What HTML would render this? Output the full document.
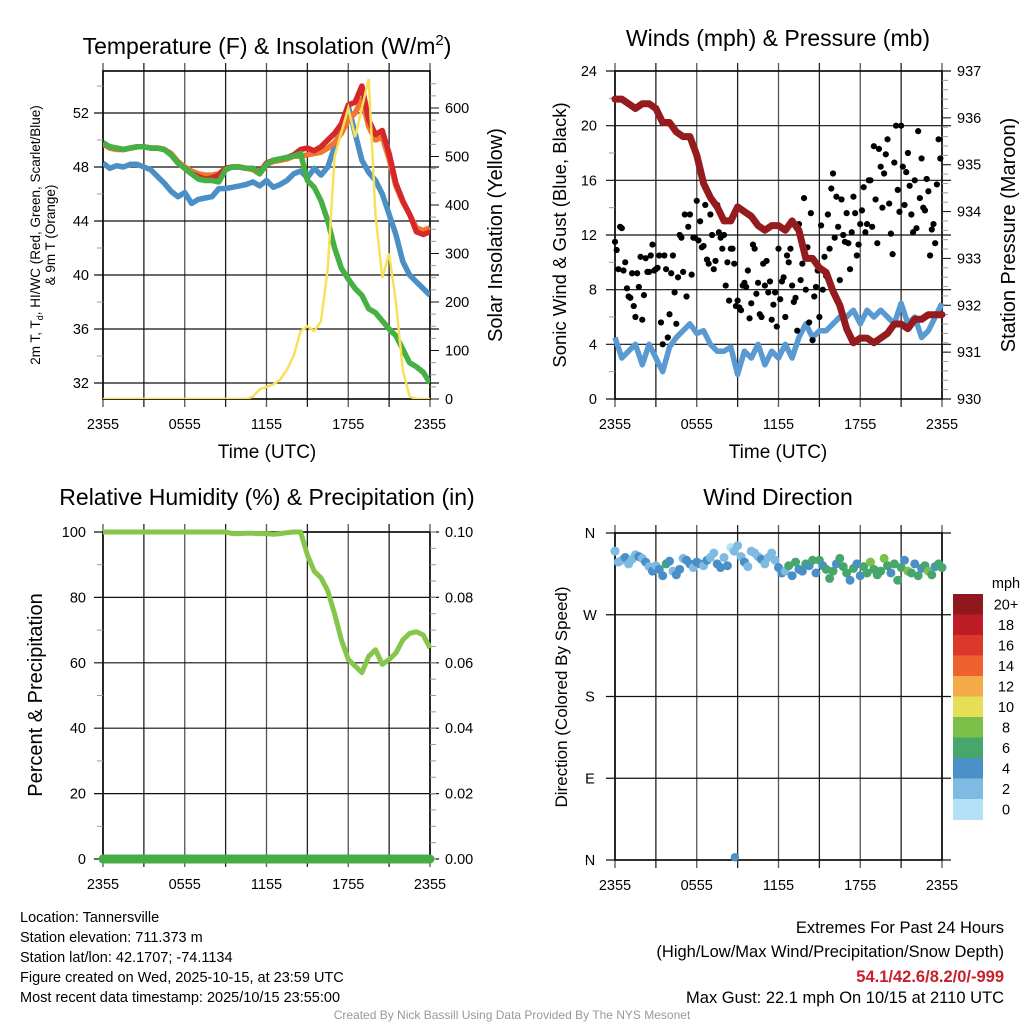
<!DOCTYPE html>
<html><head><meta charset="utf-8">
<style>
html,body{margin:0;padding:0;background:#fff;}
svg{display:block;font-family:"Liberation Sans",Arial,sans-serif;}
</style></head>
<body>
<svg id="chart" width="1024" height="1024" viewBox="0 0 1024 1024">
<rect width="1024" height="1024" fill="#fff"/>
<text x="267" y="54" font-size="23" text-anchor="middle">Temperature (F) &amp; Insolation (W/m<tspan dy="-9" font-size="15">2</tspan><tspan dy="9">)</tspan></text>
<text x="778" y="46" font-size="23" text-anchor="middle">Winds (mph) &amp; Pressure (mb)</text>
<text x="267" y="505" font-size="23" text-anchor="middle">Relative Humidity (%) &amp; Precipitation (in)</text>
<text x="778" y="505" font-size="23" text-anchor="middle">Wind Direction</text>

<g transform="translate(40,235) rotate(-90)" font-size="13.5" text-anchor="middle">
<text x="0" y="0">2m T, T<tspan font-size="9" dy="3">d</tspan><tspan dy="-3">, HI/WC (Red, Green, Scarlet/Blue)</tspan></text>
<text x="0" y="15">&amp; 9m T (Orange)</text></g>
<text transform="translate(502,235) rotate(-90)" font-size="20" text-anchor="middle">Solar Insolation (Yellow)</text>
<text transform="translate(566,235) rotate(-90)" font-size="18.5" text-anchor="middle">Sonic Wind &amp; Gust (Blue, Black)</text>
<text transform="translate(1015,235) rotate(-90)" font-size="20" text-anchor="middle">Station Pressure (Maroon)</text>
<text transform="translate(42,695) rotate(-90)" font-size="20" text-anchor="middle">Percent &amp; Precipitation</text>
<text transform="translate(567,697) rotate(-90)" font-size="17" text-anchor="middle">Direction (Colored By Speed)</text>
<text x="267" y="458" font-size="19" text-anchor="middle">Time (UTC)</text>
<text x="778" y="458" font-size="19" text-anchor="middle">Time (UTC)</text>

<g font-size="14.5">
<text x="20" y="922">Location: Tannersville</text>
<text x="20" y="942">Station elevation: 711.373 m</text>
<text x="20" y="962">Station lat/lon: 42.1707; -74.1134</text>
<text x="20" y="982">Figure created on Wed, 2025-10-15, at 23:59 UTC</text>
<text x="20" y="1002">Most recent data timestamp: 2025/10/15 23:55:00</text>
</g>
<g font-size="16.5" text-anchor="end">
<text x="1004" y="933">Extremes For Past 24 Hours</text>
<text x="1004" y="957">(High/Low/Max Wind/Precipitation/Snow Depth)</text>
<text x="1004" y="982" fill="#c8202a" font-weight="bold">54.1/42.6/8.2/0/-999</text>
<text x="1004" y="1003">Max Gust: 22.1 mph On 10/15 at 2110 UTC</text>
</g>
<text x="512" y="1019" font-size="12" fill="#999" text-anchor="middle">Created By Nick Bassill Using Data Provided By The NYS Mesonet</text>
<g id="plots"></g>
</svg>
<script>
// ---- data (half-hourly, hours since 2355 UTC) ----
const xTickLabels = ["2355","0555","1155","1755","2355"];
const tempT   = [49.8,49.5,49.4,49.3,49.4,49.5,49.5,49.4,49.4,49.3,48.9,48.3,47.9,47.5,47.3,47.1,47.2,47.4,47.9,48.0,48.0,47.9,47.9,47.6,48.3,48.5,48.6,48.7,48.9,49.3,49.4,49.2,49.5,50.0,50.5,51.2,52.6,52.8,54.0,51.5,50.4,50.7,49.0,46.8,45.5,44.5,43.2,43.0,43.2];
const temp9m  = [49.7,49.4,49.3,49.3,49.4,49.5,49.5,49.4,49.4,49.3,49.0,48.4,48.0,47.7,47.5,47.4,47.4,47.5,47.9,48.0,48.0,47.9,47.8,47.5,48.2,48.4,48.5,48.6,48.8,48.8,48.9,49.0,49.1,49.4,49.8,50.5,51.5,52.0,53.0,51.0,50.0,50.2,48.6,46.6,45.4,44.5,43.5,43.3,43.5];
const tempTd  = [49.8,49.5,49.4,49.3,49.4,49.5,49.5,49.4,49.4,49.3,48.9,48.3,47.9,47.5,47.1,47.0,47.0,46.9,47.8,48.0,48.0,47.9,47.9,47.5,48.2,48.5,48.6,48.7,48.8,49.0,47.0,46.5,45.5,44.0,42.0,40.5,39.7,39.0,38.5,37.5,37.2,36.6,36.0,35.5,34.5,33.5,33.2,32.8,32.0];
const windChill=[48.3,47.9,48.1,48.0,48.2,48.2,48.0,47.8,47.3,46.8,46.2,45.8,46.1,45.3,45.6,45.7,45.8,46.4,46.4,46.5,46.6,46.7,46.9,46.6,47.0,46.5,46.7,47.0,47.5,47.7,47.2,47.9,47.4,48.0,49.5,51.0,52.5,50.5,48.5,47.6,47.0,46.0,44.5,43.0,41.0,40.0,39.5,39.0,38.5];
const solar   = [0,0,0,0,0,0,0,0,0,0,0,0,0,0,0,0,0,0,0,0,0,0,5,20,25,30,40,60,90,140,150,140,160,270,500,550,600,540,600,660,380,250,300,200,60,5,0,0,0];
const pressure= [936.4,936.4,936.3,936.2,936.3,936.3,936.2,935.9,935.9,935.7,935.6,935.6,935.2,934.6,934.3,934.1,933.8,933.8,934.1,934.0,933.9,933.7,933.6,933.7,933.7,933.6,933.8,933.6,933.0,933.0,932.8,932.7,932.3,932.0,931.5,931.2,931.3,931.3,931.2,931.3,931.4,931.6,931.6,931.5,931.7,931.7,931.8,931.8,931.8];
const windSpd = [4.5,3.0,3.5,4.0,2.5,4.0,3.0,2.0,3.8,4.5,5.0,5.5,4.8,5.0,4.0,3.5,3.5,3.8,1.8,3.5,3.0,4.0,2.5,3.5,3.0,4.0,3.0,4.5,5.5,4.5,5.0,5.0,5.5,6.0,6.0,6.5,5.5,6.5,6.0,6.5,6.0,5.5,7.0,5.5,6.0,4.5,5.0,6.0,7.0];
const rh      = [100,100,100,100,100,100,100,100,100,100,100,100,100,100,100,100,100,100,100,99.5,99.5,99.6,99.6,99.5,99.5,99.3,99.5,99.8,100,100,93,88,86,82,75,67,61,59,57,62,64,59.5,61,63,67,69,69.5,68.5,64.5];
const precip  = [0,0,0,0,0,0,0,0,0,0,0,0,0,0,0,0,0,0,0,0,0,0,0,0,0,0,0,0,0,0,0,0,0,0,0,0,0,0,0,0,0,0,0,0,0,0,0,0,0];
// gusts, quarter-hourly
const gustA = [11.5,9.5,12.5,10,7.5,9.2,6,8.2,5.8,10.3,9.3,11.3,9.5,10.5,4,9.5,6.2,10.5,5.5,12,9.3,7.5,13.5,11.8,14.5,13,11.2,10.2,13.5,9.5,14.2,11.8,12,10,11,9.9,7.2,6.5,8.5,9.4,7,11,8.5,6,8.3,7.8,5.8,7.8,11,8.6,6,10,8.3,7.4,12.8,9.9,8,5.6,4.3,8.2,6,8,9,11,16.5,14.8,8.7,12,13.6,9.5,14.8,10.5,12.8,15.5,12.8,16,18.5,11.4,17,16.5,19,12.1,17.3,15.3,20,14.2,18,13.5,16,19.6,17.6,13.8,15.2,12.4,11.4,19];
const gustB = [10.9,12.6,9.4,8.1,7.4,6.8,9.2,10.4,7.6,9.3,10.5,9.4,9.6,5.6,10.5,4.5,9.2,7.8,8.9,11.8,13.5,12.6,9.1,11.8,11.6,11.1,14.2,9.9,12,10.1,12.2,11,8.3,7.2,11,6.8,6.7,8.3,8.2,5.9,11.3,7.7,6.2,9.9,10.1,8.6,6.9,5.3,7.3,8.9,10.5,11,7.1,5,8.7,14.7,11.1,13.6,7.5,9.4,12.7,10.4,13.5,15.4,11.8,12.6,14.6,11.5,11.4,12.2,13.6,11.3,13.8,12.2,16,12.6,14.6,18.3,14,17.9,14.3,10.6,20,13.7,17,16.6,15.6,12.2,12.5,14.7,14,16.1,10.5,12.8,15.7,17.6];
// wind direction (deg) and speed, quarter-hourly
const windDir = [340,328,330,333,326,331,336,334,332,328,323,318,324,320,313,326,329,318,314,320,332,330,326,322,328,326,324,330,333,338,326,322,333,324,344,340,346,334,328,323,340,338,334,331,326,333,338,330,322,316,318,324,313,328,320,318,326,324,330,316,330,324,320,310,318,326,332,323,316,308,321,326,313,323,316,328,320,314,318,332,324,316,326,308,322,330,318,316,326,313,321,324,318,314,323,326,322];
const dirSpd  = [3,2,3,4,3,2,3,4,3,4,3,4,3,4,4,6,4,3,4,4,3,4,4,3,4,4,3,4,3,2,4,4,3,4,1,2,2,3,4,3,2,2,3,4,3,2,3,2,4,4,3,6,4,6,4,4,6,4,6,4,6,4,6,6,6,4,6,6,6,4,6,4,4,6,6,8,6,6,6,8,6,4,6,6,6,4,8,6,4,6,4,6,8,6,4,6,6];
const speedBinLabels = ["0","2","4","6","8","10","12","14","16","18","20+"];
const speedBinColors = ["#b5e1f7","#7fbae2","#4a8fc6","#46a66c","#7cc04a","#e4df57","#f5aa48","#ef6230","#dc392c","#bd1c26","#8e181b"];
const dirLabels = ["N","W","S","E","N"];

const NS="http://www.w3.org/2000/svg";
const plots=document.getElementById('plots');
function mk(tag,attrs,parent){const e=document.createElementNS(NS,tag);for(const k in attrs)e.setAttribute(k,attrs[k]);(parent||plots).appendChild(e);return e;}
function linScale(d0,d1,r0,r1){return v=>r0+(v-d0)*(r1-r0)/(d1-d0);}

function frame(x0,x1,y0,y1,name){
  const g=mk('g',{});
  
  
  const xs=linScale(0,24,x0,x1);
  for(let h=0;h<=24;h+=3){
    mk('line',{x1:xs(h),x2:xs(h),y1:y0-8,y2:y1+8,stroke:(h%6==0)?'#555':'#222','stroke-width':1.3},g);
  }
  xTickLabels.forEach((lab,i)=>{
    const t=mk('text',{x:xs(i*6),y:y1+30,'font-size':14.5,'text-anchor':'middle'},g);
    t.textContent=lab;
    
    
  });
  mk('rect',{x:x0,y:y0,width:x1-x0,height:y1-y0,fill:'none',stroke:'#000','stroke-width':1.6},g);
  return {g,xs};
}
function hline(g,x0,x1,y,color){mk('line',{x1:x0-9,x2:x1+9,y1:y,y2:y,stroke:color||'#111','stroke-width':1.2},g);}
function minor(g,x,y,side){mk('line',{x1:x,x2:x+side*6,y1:y,y2:y,stroke:'#999','stroke-width':1},g);}
function label(g,x,y,txt,anchor,name){const t=mk('text',{x:x,y:y+5,'font-size':14.5,'text-anchor':anchor},g);t.textContent=txt;return t;}
function pathD(xs,ys,arr,step){return arr.map((v,i)=>(i?'L':'M')+xs(i*step).toFixed(1)+','+ys(v).toFixed(1)).join(' ');}

// ---------- panel 1: temperature ----------
(function(){
  const x0=103,x1=430,y0=71,y1=399;
  const {g,xs}=frame(x0,x1,y0,y1,'temperature');
  const yT=linScale(32,52,383,113), yS=linScale(0,600,399,108);
  [32,36,40,44,48,52].forEach(v=>{hline(g,x0,x1,yT(v));label(g,89,yT(v),String(v),'end','temp-y-tick');});
  [34,38,42,46,50,54].forEach(v=>{minor(g,x0,yT(v),-1);});
  for(let v=0;v<=650;v+=25){minor(g,x1,yS(v),1);}
  [0,100,200,300,400,500,600].forEach(v=>{mk('line',{x1:x1,x2:x1+9,y1:yS(v),y2:yS(v),stroke:'#111'},g);label(g,445,yS(v),String(v),'start','solar-y-tick');});
  const clip=mk('clipPath',{id:'c1'});mk('rect',{x:x0,y:y0,width:x1-x0,height:y1-y0},clip);
  const s=[[windChill,'#4a8fc6','wind-chill-line'],[temp9m,'#f0772e','temp-9m-line'],[tempT,'#d6282a','temp-2m-line'],[tempTd,'#45b043','dewpoint-line']];
  s.forEach(([arr,c,n])=>{
    const p=mk('path',{d:pathD(xs,yT,arr,0.5),fill:'none',stroke:c,'stroke-width':5.5,'stroke-linejoin':'round','clip-path':'url(#c1)'});
    
    
  });
  const p=mk('path',{d:pathD(xs,yS,solar,0.5),fill:'none',stroke:'#f8e05a','stroke-width':2.5,'clip-path':'url(#c1)'});
  
  
})();

// ---------- panel 2: winds & pressure ----------
(function(){
  const x0=615,x1=942,y0=71,y1=399;
  const {g,xs}=frame(x0,x1,y0,y1,'winds');
  const yW=linScale(0,24,399,71), yP=linScale(930,937,399,71);
  [0,4,8,12,16,20,24].forEach(v=>{hline(g,x0,x1,yW(v));label(g,597,yW(v),String(v),'end','wind-y-tick');});
  [2,6,10,14,18,22].forEach(v=>minor(g,x0,yW(v),-1));
  for(let v=930;v<=937;v+=0.2){minor(g,x1,yP(v),1);}
  [930,931,932,933,934,935,936,937].forEach(v=>{mk('line',{x1:x1,x2:x1+9,y1:yP(v),y2:yP(v),stroke:'#111'},g);label(g,957,yP(v),String(v),'start','pressure-y-tick');});
  const w=mk('path',{d:pathD(xs,yW,windSpd,0.5),fill:'none',stroke:'#5a9ad3','stroke-width':5.5,'stroke-linejoin':'round'});
  
  
  [gustA,gustB].forEach((arr,k)=>arr.forEach((v,i)=>{
    const c=mk('circle',{cx:xs(i*0.25+k*0.125),cy:yW(v),r:3.1,fill:'#000'});
    
    
  }));
  const p=mk('path',{d:pathD(xs,yP,pressure,0.5),fill:'none',stroke:'#951b1e','stroke-width':7,'stroke-linejoin':'round','stroke-linecap':'round'});
  
  
})();

// ---------- panel 3: RH & precip ----------
(function(){
  const x0=103,x1=430,y0=532,y1=859;
  const {g,xs}=frame(x0,x1,y0,y1,'humidity');
  const yR=linScale(0,100,859,532), yQ=linScale(0,0.1,859,532);
  [0,20,40,60,80,100].forEach(v=>{hline(g,x0,x1,yR(v));label(g,86,yR(v),String(v),'end','rh-y-tick');});
  [10,30,50,70,90].forEach(v=>minor(g,x0,yR(v),-1));
  for(let v=0;v<=0.1001;v+=0.005){minor(g,x1,yQ(v),1);}
  [0,0.02,0.04,0.06,0.08,0.1].forEach(v=>label(g,445,yQ(v),v.toFixed(2),'start','precip-y-tick'));
  const p=mk('path',{d:pathD(xs,yR,rh,0.5),fill:'none',stroke:'#86c64b','stroke-width':5,'stroke-linejoin':'round'});
  
  
  const q=mk('path',{d:pathD(xs,yQ,precip,0.5),fill:'none',stroke:'#44ad44','stroke-width':9,'stroke-linecap':'round'});
  
  
})();

// ---------- panel 4: wind direction ----------
(function(){
  const x0=615,x1=942,y0=533,y1=860;
  const {g,xs}=frame(x0,x1,y0,y1,'wind-direction');
  const yD=linScale(0,360,860,533);
  dirLabels.forEach((lab,i)=>{const v=360-i*90;hline(g,x0,x1,yD(v));label(g,590,yD(v),lab,'middle','direction-tick');});
  windDir.forEach((d,i)=>{
    const bin=Math.min(10,Math.floor(dirSpd[i]/2));
    const c=mk('circle',{cx:xs(i*0.25),cy:yD(d),r:4.5,fill:speedBinColors[bin]});
    
    
  });
  const o=mk('circle',{cx:xs(8.8),cy:yD(3),r:4.2,fill:speedBinColors[2]});
  
  
  const lg=mk('g',{});
  
  
  const bx=953,bw=30,bh=20.5,btop=594;
  const mt=mk('text',{x:1006,y:588,'font-size':14.5,'text-anchor':'middle'},lg);mt.textContent='mph';
  speedBinLabels.forEach((lab,i)=>{
    const idx=10-i;
    const r=mk('rect',{x:bx,y:btop+i*bh,width:bw,height:bh+0.5,fill:speedBinColors[idx]},lg);
    
    
    const t=mk('text',{x:1006,y:btop+i*bh+bh/2+5,'font-size':14.5,'text-anchor':'middle'},lg);
    t.textContent=speedBinLabels[idx];
    
    
  });
})();
</script>
</body></html>
